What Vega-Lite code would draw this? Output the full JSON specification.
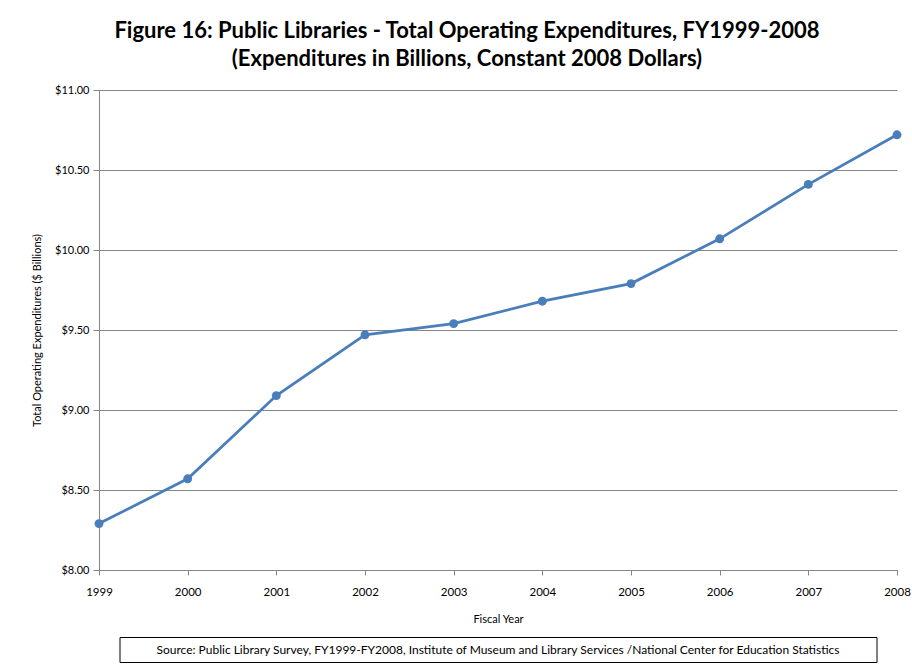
{
  "$schema": "https://vega.github.io/schema/vega-lite/v6.json",
  "padding": {"left": 31, "top": 20, "right": 5, "bottom": 5},
  "background": "white",
  "title": {
    "text": ["Figure 16: Public Libraries - Total Operating Expenditures, FY1999-2008", "(Expenditures in Billions, Constant 2008 Dollars)"],
    "font": "Lato",
    "fontSize": 22,
    "fontWeight": "bold",
    "color": "black",
    "anchor": "middle",
    "lineHeight": 28,
    "offset": 13,
    "dx": -4
  },
  "bounds": "flush",
  "center": true,
  "spacing": 67,
  "vconcat": [
    {
      "width": 798,
      "height": 480,
      "view": {"stroke": null},
      "data": {"values": [
        {"year": "1999", "exp": 8.29},
        {"year": "2000", "exp": 8.57},
        {"year": "2001", "exp": 9.09},
        {"year": "2002", "exp": 9.47},
        {"year": "2003", "exp": 9.54},
        {"year": "2004", "exp": 9.68},
        {"year": "2005", "exp": 9.79},
        {"year": "2006", "exp": 10.07},
        {"year": "2007", "exp": 10.41},
        {"year": "2008", "exp": 10.72}
      ]},
      "mark": {"type": "line", "color": "#4a7ebb", "strokeWidth": 2.75, "point": {"filled": true, "size": 80, "color": "#4a7ebb", "opacity": 1}},
      "encoding": {
        "x": {
          "field": "year", "type": "ordinal",
          "scale": {"type": "point", "padding": 0},
          "axis": {
            "title": "Fiscal Year", "titleFont": "Lato", "titleFontSize": 11, "titleFontWeight": "normal", "titleColor": "black", "titlePadding": 16,
            "labelAngle": 0, "labelFont": "Lato", "labelFontSize": 11.5, "labelColor": "black", "labelPadding": 11,
            "domainColor": "#868686", "tickColor": "#868686", "tickSize": 5, "grid": false
          }
        },
        "y": {
          "field": "exp", "type": "quantitative",
          "scale": {"domain": [8, 11], "zero": false},
          "axis": {
            "title": "Total Operating Expenditures ($ Billions)", "titleFont": "Lato", "titleFontSize": 11, "titleFontWeight": "normal", "titleColor": "black", "titlePadding": 12,
            "values": [8, 8.5, 9, 9.5, 10, 10.5, 11], "format": "$.2f",
            "labelFont": "Lato", "labelFontSize": 11, "labelColor": "black", "labelPadding": 4,
            "domainColor": "#868686", "tickColor": "#868686", "tickSize": 6,
            "grid": true, "gridColor": "#868686", "gridWidth": 1
          }
        }
      }
    },
    {
      "width": 757,
      "height": 25,
      "view": {"stroke": "black", "strokeWidth": 1},
      "data": {"values": [{"src": "Source: Public Library Survey, FY1999-FY2008, Institute  of Museum and Library Services /National  Center for Education Statistics"}]},
      "mark": {"type": "text", "font": "Lato", "fontSize": 12, "color": "black"},
      "encoding": {"text": {"field": "src"}}
    }
  ]
}
